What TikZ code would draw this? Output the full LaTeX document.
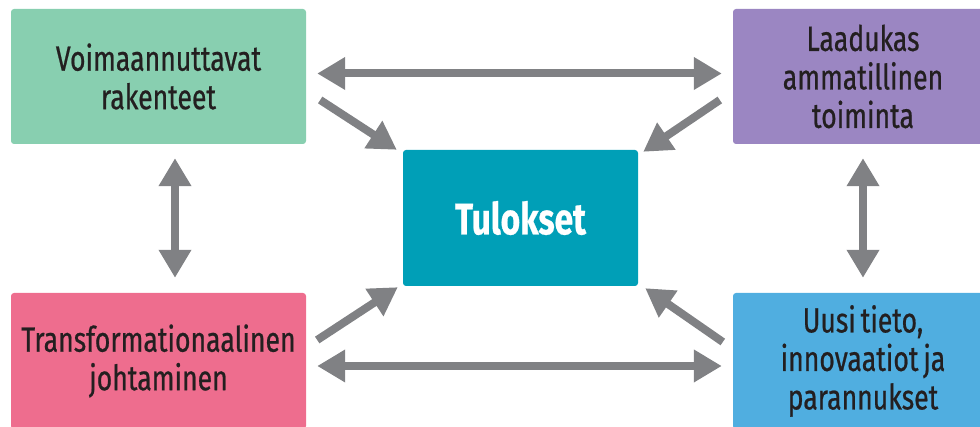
\documentclass[tikz,border=0pt]{standalone}
\usepackage{fontspec}
\setmainfont[FakeStretch=0.76, FakeBold=0.6, WordSpace=0.7]{Fira Sans}
\usetikzlibrary{arrows.meta}
\definecolor{cgreen}{HTML}{88CFB0}
\definecolor{cpurple}{HTML}{9B86C2}
\definecolor{cteal}{HTML}{009FB7}
\definecolor{cpink}{HTML}{EE6D8E}
\definecolor{cblue}{HTML}{50AEE0}
\definecolor{cgray}{HTML}{808184}
\definecolor{ctext}{HTML}{231F20}
\tikzset{
  boxbase/.style={rounded corners=3pt, inner sep=0pt, align=center, text=ctext,
    font=\fontsize{35}{38.5}\selectfont},
  arr/.style={draw=cgray, line width=8pt, -{Triangle[length=28pt,width=31pt]}},
  darr/.style={draw=cgray, line width=8pt, {Triangle[length=28pt,width=31pt]}-{Triangle[length=28pt,width=31pt]}},
}
\begin{document}
\begin{tikzpicture}[x=1pt,y=1pt]
\useasboundingbox (0,0) rectangle (980,427);
\node[boxbase, fill=cgreen, minimum width=295pt, minimum height=135pt] (g) at (158.5,350.5) {Voimaannuttavat\\rakenteet};
\node[boxbase, fill=cpurple, minimum width=260pt, minimum height=135pt] (p) at (863,350.5) {Laadukas\\ammatillinen\\toiminta};
\node[boxbase, fill=cteal, minimum width=235pt, minimum height=136pt, text=white, font=\fontsize{44}{48}\selectfont\bfseries] (t) at (520.5,209) {Tulokset};
\node[boxbase, fill=cpink, minimum width=295pt, minimum height=136pt] (k) at (158.5,66) {Transformationaalinen\\johtaminen};
\node[boxbase, fill=cblue, minimum width=260pt, minimum height=136pt] (b) at (863,66) {Uusi tieto,\\innovaatiot ja\\parannukset};
\draw[darr] ([xshift=11pt,yshift=3pt]g.east) -- ([xshift=-11pt,yshift=3pt]p.west);
\draw[darr] ([xshift=11pt,yshift=-5pt]k.east) -- ([xshift=-11pt,yshift=-5pt]b.west);
\draw[arr] ([xshift=14pt,yshift=-23.5pt]g.east) -- ([xshift=-6pt]t.north west);
\draw[arr] ([xshift=-13pt,yshift=-23.5pt]p.west) -- ([xshift=5pt,yshift=-2pt]t.north east);
\draw[arr] ([xshift=11pt,yshift=21pt]k.east) -- ([xshift=-5pt,yshift=-1pt]t.south west);
\draw[arr] ([xshift=-10pt,yshift=19pt]b.west) -- ([xshift=7pt,yshift=-2pt]t.south east);
\draw[darr] ([xshift=16.5pt,yshift=-14pt]g.south) -- ([xshift=16.5pt,yshift=15pt]k.north);
\draw[darr] ([yshift=-14pt]p.south) -- ([yshift=15pt]b.north);
\end{tikzpicture}
\end{document}
